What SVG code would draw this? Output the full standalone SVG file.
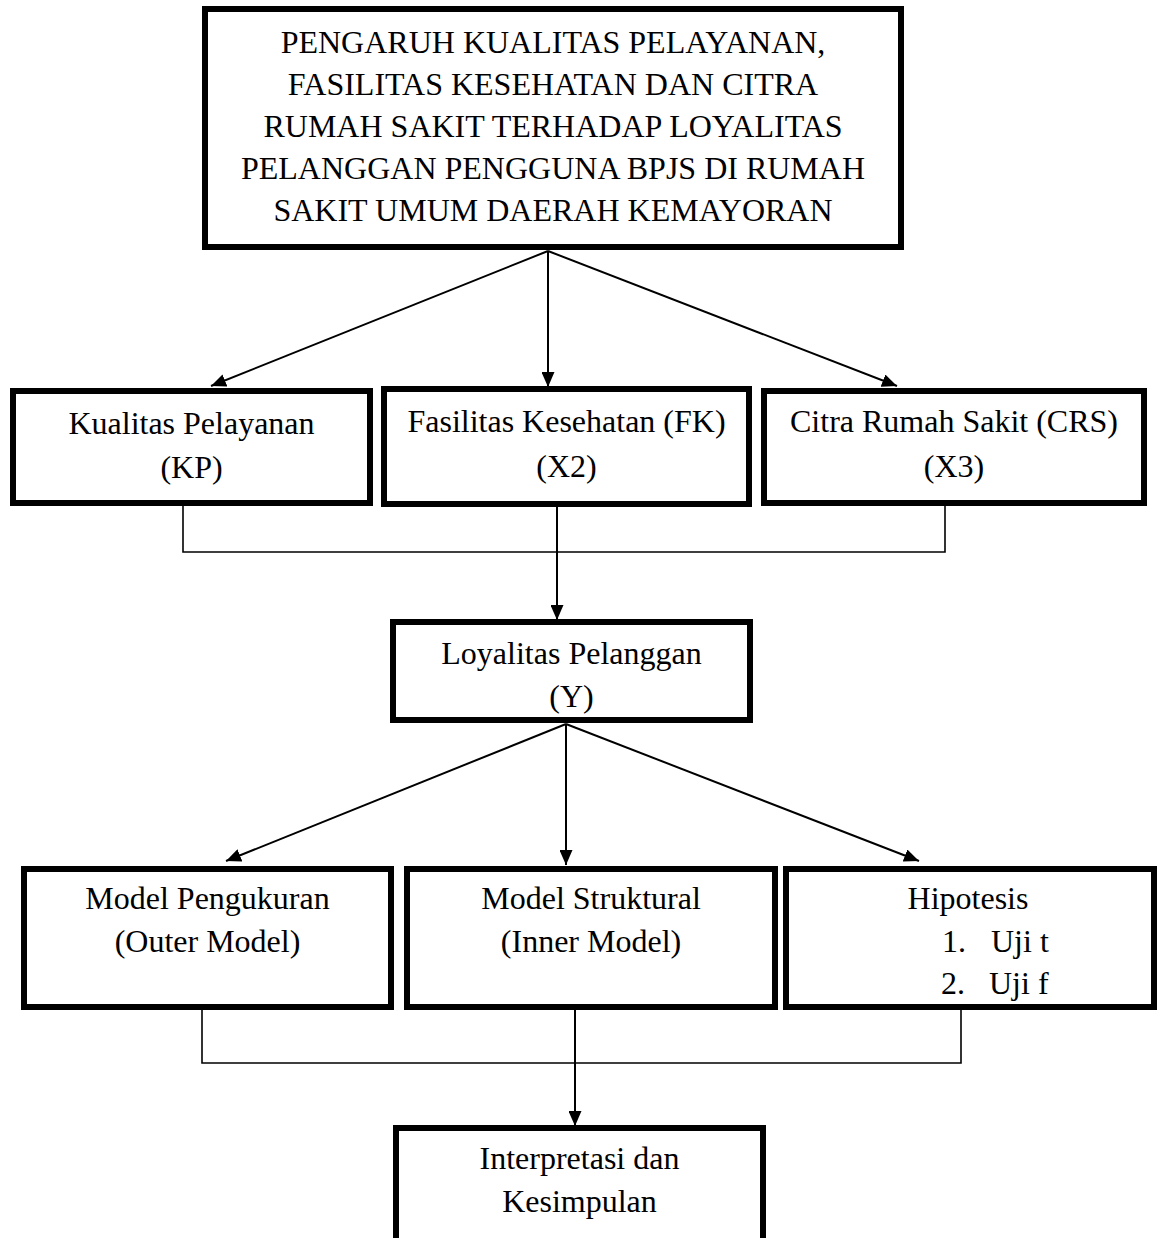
<svg xmlns="http://www.w3.org/2000/svg" width="1160" height="1238" viewBox="0 0 1160 1238">
<style>
.box{fill:#fff;stroke:#000;stroke-width:6}
.t{font-family:"Liberation Serif","Times New Roman",serif;font-size:32px;fill:#000;text-anchor:middle}
.ts{font-family:"Liberation Serif","Times New Roman",serif;font-size:32px;fill:#000;text-anchor:start}
.ln{fill:none;stroke:#000;stroke-width:1.6}
.ar{fill:none;stroke:#000;stroke-width:2}
</style>
<defs>
<marker id="ah" markerUnits="userSpaceOnUse" markerWidth="15" markerHeight="13" refX="15" refY="6.5" orient="auto">
<path d="M0,0 L15,6.5 L0,13 z" fill="#000"/>
</marker>
</defs>
<rect width="1160" height="1238" fill="#fff"/>
<g id="connectors">
<line class="ar" x1="548" y1="251" x2="211" y2="386" marker-end="url(#ah)"/>
<line class="ar" x1="548" y1="251" x2="548" y2="387" marker-end="url(#ah)"/>
<line class="ar" x1="548" y1="251" x2="897" y2="386" marker-end="url(#ah)"/>
<polyline class="ln" points="183,506 183,552 945,552 945,506"/>
<line class="ar" x1="557" y1="507" x2="557" y2="620" marker-end="url(#ah)"/>
<line class="ar" x1="566" y1="724" x2="226" y2="861" marker-end="url(#ah)"/>
<line class="ar" x1="566" y1="724" x2="566" y2="865" marker-end="url(#ah)"/>
<line class="ar" x1="566" y1="724" x2="919" y2="861" marker-end="url(#ah)"/>
<polyline class="ln" points="202,1010 202,1063 961,1063 961,1010"/>
<line class="ar" x1="575" y1="1010" x2="575" y2="1126" marker-end="url(#ah)"/>
</g>
<g id="title">
<rect class="box" x="205" y="9" width="696" height="238"/>
<text class="t" x="553" y="53">PENGARUH KUALITAS PELAYANAN,</text>
<text class="t" x="553" y="95">FASILITAS KESEHATAN DAN CITRA</text>
<text class="t" x="553" y="137">RUMAH SAKIT TERHADAP LOYALITAS</text>
<text class="t" x="553" y="179">PELANGGAN PENGGUNA BPJS DI RUMAH</text>
<text class="t" x="553" y="221">SAKIT UMUM DAERAH KEMAYORAN</text>
</g>
<g id="kp">
<rect class="box" x="13" y="391" width="357" height="112"/>
<text class="t" x="191.5" y="434">Kualitas Pelayanan</text>
<text class="t" x="191.5" y="478">(KP)</text>
</g>
<g id="fk">
<rect class="box" x="384" y="389" width="365" height="115"/>
<text class="t" x="566.5" y="432">Fasilitas Kesehatan (FK)</text>
<text class="t" x="566.5" y="477">(X2)</text>
</g>
<g id="crs">
<rect class="box" x="764" y="391" width="380" height="112"/>
<text class="t" x="954" y="432">Citra Rumah Sakit (CRS)</text>
<text class="t" x="954" y="477">(X3)</text>
</g>
<g id="loyalitas">
<rect class="box" x="393" y="622" width="357" height="98"/>
<text class="t" x="571.5" y="664">Loyalitas Pelanggan</text>
<text class="t" x="571.5" y="707">(Y)</text>
</g>
<g id="outer">
<rect class="box" x="24" y="869" width="367" height="138"/>
<text class="t" x="207.5" y="909">Model Pengukuran</text>
<text class="t" x="207.5" y="952">(Outer Model)</text>
</g>
<g id="inner">
<rect class="box" x="407" y="869" width="368" height="138"/>
<text class="t" x="591" y="909">Model Struktural</text>
<text class="t" x="591" y="952">(Inner Model)</text>
</g>
<g id="hipotesis">
<rect class="box" x="786" y="869" width="368" height="138"/>
<text class="t" x="968" y="909">Hipotesis</text>
<text class="ts" x="942" y="952">1.</text>
<text class="ts" x="991" y="952">Uji t</text>
<text class="ts" x="941" y="994">2.</text>
<text class="ts" x="989" y="994">Uji f</text>
</g>
<g id="kesimpulan">
<rect class="box" x="396" y="1128" width="367" height="150"/>
<text class="t" x="579.5" y="1169">Interpretasi dan</text>
<text class="t" x="579.5" y="1212">Kesimpulan</text>
</g>
</svg>
